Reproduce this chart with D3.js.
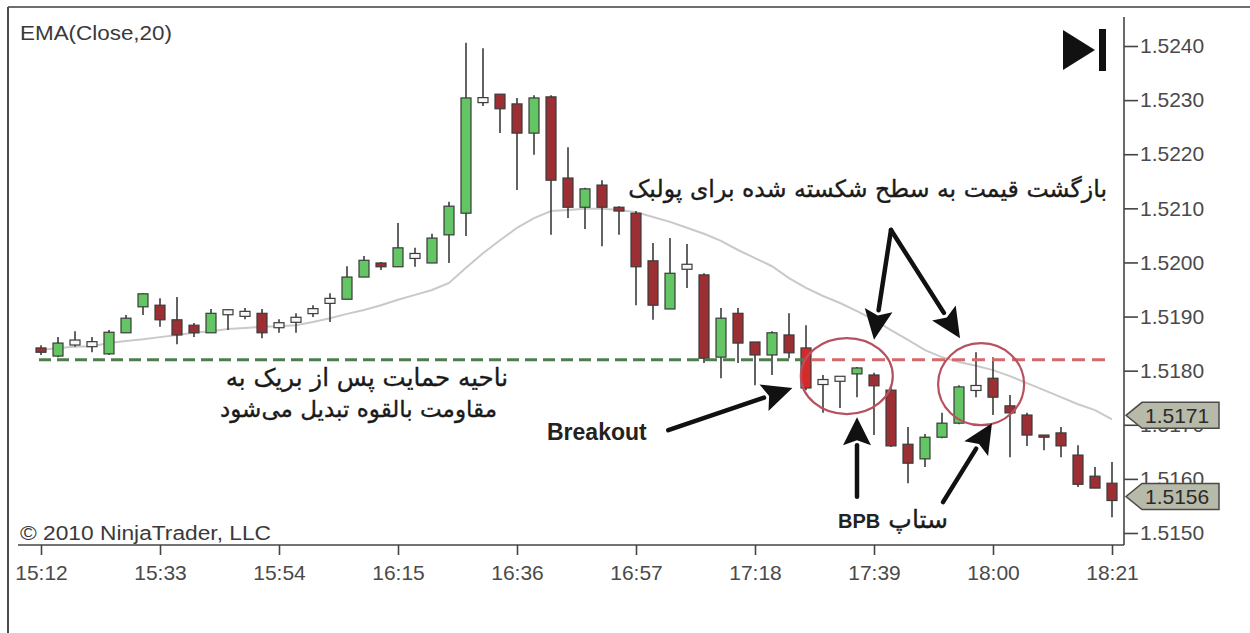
<!DOCTYPE html>
<html>
<head>
<meta charset="utf-8">
<script src="https://cdn.jsdelivr.net/npm/d3@7"></script>
<style>
  html, body { margin: 0; padding: 0; background: #fff; }
  svg { display: block; }
</style>
</head>
<body>
<svg id="chart" width="1250" height="633"></svg>
<script>
// ---- data: 3-minute bars, 15:12 to 18:21 ----
const timeTicks = ["15:12", "15:33", "15:54", "16:15", "16:36", "16:57", "17:18", "17:39", "18:00", "18:21"];
const barMinutes = 3;

const opens = [
  1.51842, 1.51827, 1.51852, 1.51849, 1.51831, 1.51870, 1.51918, 1.51921, 1.51894, 1.51884,
  1.51870, 1.51908, 1.51905, 1.51906, 1.51884, 1.51894, 1.51910, 1.51929, 1.51932, 1.51973,
  1.51999, 1.51992, 1.52012, 1.51999, 1.52051, 1.52091, 1.52300, 1.52311, 1.52293, 1.52239,
  1.52306, 1.52156, 1.52102, 1.52143, 1.52102, 1.52091, 1.52003, 1.51914, 1.51992, 1.51977,
  1.51825, 1.51906, 1.51853, 1.51829, 1.51866, 1.51842, 1.51779, 1.51785, 1.51794, 1.51792,
  1.51764, 1.51664, 1.51637, 1.51677, 1.51703, 1.51768, 1.51786, 1.51735, 1.51718, 1.51681,
  1.51685, 1.51644, 1.51605, 1.51592
];
const highs = [
  1.51847, 1.51862, 1.51873, 1.51862, 1.51875, 1.51903, 1.51943, 1.51934, 1.51936, 1.51888,
  1.51914, 1.51914, 1.51916, 1.51914, 1.51895, 1.51906, 1.51921, 1.51943, 1.51993, 1.52012,
  1.52001, 1.52073, 1.52027, 1.52053, 1.52112, 1.52406, 1.52396, 1.52311, 1.52304, 1.52309,
  1.52309, 1.52213, 1.52138, 1.52152, 1.52104, 1.52095, 1.52036, 1.52045, 1.52034, 1.51980,
  1.51916, 1.51916, 1.51853, 1.51873, 1.51906, 1.51884, 1.51792, 1.51785, 1.51807, 1.51796,
  1.51768, 1.51696, 1.51683, 1.51722, 1.51773, 1.51834, 1.51825, 1.51755, 1.51722, 1.51681,
  1.51696, 1.51662, 1.51622, 1.51631
];
const lows = [
  1.51829, 1.51825, 1.51844, 1.51834, 1.51829, 1.51870, 1.51903, 1.51881, 1.51849, 1.51862,
  1.51870, 1.51875, 1.51895, 1.51860, 1.51870, 1.51870, 1.51899, 1.51890, 1.51932, 1.51973,
  1.51986, 1.51992, 1.51992, 1.51999, 1.51999, 1.52049, 1.52289, 1.52239, 1.52134, 1.52199,
  1.52051, 1.52082, 1.52062, 1.52030, 1.52051, 1.51921, 1.51894, 1.51914, 1.51953, 1.51814,
  1.51786, 1.51814, 1.51773, 1.51792, 1.51823, 1.51764, 1.51722, 1.51731, 1.51751, 1.51681,
  1.51659, 1.51592, 1.51622, 1.51675, 1.51701, 1.51751, 1.51718, 1.51640, 1.51661, 1.51653,
  1.51640, 1.51585, 1.51583, 1.51529
];
const closes = [
  1.51834, 1.51851, 1.51852, 1.51849, 1.51871, 1.51897, 1.51942, 1.51894, 1.51866, 1.51870,
  1.51906, 1.51908, 1.51905, 1.51870, 1.51884, 1.51894, 1.51910, 1.51929, 1.51973, 1.52004,
  1.51992, 1.52027, 1.52012, 1.52045, 1.52104, 1.52304, 1.52300, 1.52284, 1.52239, 1.52304,
  1.52152, 1.52102, 1.52136, 1.52102, 1.52095, 1.51992, 1.51921, 1.51980, 1.51992, 1.51823,
  1.51897, 1.51851, 1.51829, 1.51870, 1.51833, 1.51768, 1.51779, 1.51785, 1.51805, 1.51772,
  1.51661, 1.51629, 1.51677, 1.51703, 1.51770, 1.51768, 1.51751, 1.51722, 1.51681, 1.51677,
  1.51661, 1.51590, 1.51583, 1.51560
];
// EMA(Close,20) as plotted
const ema20 = [
  1.51838, 1.51842, 1.51844, 1.51845, 1.51851, 1.51855, 1.51858, 1.51862, 1.51866, 1.51870,
  1.51873, 1.51877, 1.51879, 1.51881, 1.51882, 1.51884, 1.51890, 1.51897, 1.51905, 1.51912,
  1.51921, 1.51931, 1.51940, 1.51949, 1.51962, 1.51990, 1.52017, 1.52041, 1.52064, 1.52082,
  1.52095, 1.52097, 1.52099, 1.52099, 1.52097, 1.52093, 1.52084, 1.52075, 1.52064, 1.52053,
  1.52040, 1.52023, 1.52008, 1.51993, 1.51971, 1.51953, 1.51938, 1.51925, 1.51910, 1.51894,
  1.51875, 1.51857, 1.51838, 1.51825, 1.51816, 1.51809, 1.51801, 1.51790, 1.51777, 1.51764,
  1.51751, 1.51738, 1.51727, 1.51710
];
const priceTicks = [1.5150, 1.5160, 1.5170, 1.5180, 1.5190, 1.5200, 1.5210, 1.5220, 1.5230, 1.5240];
const priceDomain = [1.5150, 1.5240];
const supportLevel = 1.5182;   // old support, becomes resistance after the break
const breakoutBar = 45;

// ---- layout ----
const svg = d3.select("#chart");
const plot = { left: 18, right: 1124, top: 17, bottom: 545 };

const toMin = s => { const [h, m] = s.split(":").map(Number); return h * 60 + m; };
const x = d3.scaleLinear()
  .domain([toMin(timeTicks[0]), toMin(timeTicks[timeTicks.length - 1])])
  .range([41, 1112]);
const barX = i => x(toMin(timeTicks[0]) + i * barMinutes);
const y = d3.scaleLinear().domain(priceDomain).range([533, 46]);

const bars = opens.map((o, i) => ({ i, o, h: highs[i], l: lows[i], c: closes[i] }));

const axisFont = "'Liberation Sans', Arial, sans-serif";
const faFont = "'DejaVu Sans', sans-serif";

// outer frame
svg.append("line").attr("x1", 8).attr("x2", 1250).attr("y1", 7).attr("y2", 7)
  .attr("stroke", "#6f6f6f").attr("stroke-width", 2);
svg.append("line").attr("x1", 8).attr("x2", 8).attr("y1", 7).attr("y2", 633)
  .attr("stroke", "#4a4a4a").attr("stroke-width", 2);

// EMA line
svg.append("path")
  .datum(ema20)
  .attr("fill", "none")
  .attr("stroke", "#c9c9c9")
  .attr("stroke-width", 2)
  .attr("d", d3.line().x((d, i) => barX(i)).y(d => y(d)));

// candles
const bodyW = 10;
const g = svg.append("g");
g.selectAll("line.wick").data(bars).join("line")
  .attr("class", "wick")
  .attr("x1", d => barX(d.i)).attr("x2", d => barX(d.i))
  .attr("y1", d => y(d.h)).attr("y2", d => y(d.l))
  .attr("stroke", "#3b3b3b").attr("stroke-width", 1.6);

g.selectAll("rect.body").data(bars).join("rect")
  .attr("class", "body")
  .attr("x", d => barX(d.i) - bodyW / 2)
  .attr("width", bodyW)
  .attr("y", d => d.c === d.o ? y(d.c) - 2.5 : y(Math.max(d.o, d.c)))
  .attr("height", d => d.c === d.o ? 5 : Math.max(2, Math.abs(y(d.o) - y(d.c))))
  .attr("fill", d => d.c > d.o ? "#63c563" : d.c < d.o ? (d.i === breakoutBar ? "#d42a2a" : "#9c2f33") : "#f7f7f7")
  .attr("stroke", "#3b3b3b").attr("stroke-width", 1.2);

// support / resistance level
const breakX = barX(breakoutBar) - 2;
svg.append("line")
  .attr("x1", barX(0) - 2).attr("x2", breakX)
  .attr("y1", y(supportLevel)).attr("y2", y(supportLevel))
  .attr("stroke", "#4f7d4f").attr("stroke-width", 3).attr("stroke-dasharray", "12,6");
svg.append("line")
  .attr("x1", breakX + 8).attr("x2", 1107)
  .attr("y1", y(supportLevel)).attr("y2", y(supportLevel))
  .attr("stroke", "#d46a6a").attr("stroke-width", 3).attr("stroke-dasharray", "13,7");

// x axis
svg.append("line").attr("x1", plot.left).attr("x2", plot.right)
  .attr("y1", plot.bottom).attr("y2", plot.bottom)
  .attr("stroke", "#444").attr("stroke-width", 1.6);
const xAxis = svg.append("g")
  .attr("transform", `translate(0,${plot.bottom})`)
  .call(d3.axisBottom(x)
    .tickValues(timeTicks.map(toMin))
    .tickFormat((d, k) => timeTicks[k])
    .tickSize(10).tickSizeOuter(0).tickPadding(10));
xAxis.select(".domain").remove();
xAxis.selectAll(".tick line").attr("stroke", "#444").attr("stroke-width", 1.6);
xAxis.selectAll(".tick text").attr("fill", "#4a4a4a")
  .style("font-family", axisFont).style("font-size", "21px");

// y axis
svg.append("line").attr("x1", plot.right).attr("x2", plot.right)
  .attr("y1", plot.top).attr("y2", plot.bottom)
  .attr("stroke", "#444").attr("stroke-width", 1.6);
const yAxis = svg.append("g")
  .attr("transform", `translate(${plot.right},0)`)
  .call(d3.axisRight(y)
    .tickValues(priceTicks)
    .tickFormat(d3.format(".4f"))
    .tickSize(14).tickSizeOuter(0).tickPadding(2));
yAxis.select(".domain").remove();
yAxis.selectAll(".tick line").attr("stroke", "#444").attr("stroke-width", 1.6);
yAxis.selectAll(".tick text").attr("fill", "#4a4a4a")
  .style("font-family", axisFont).style("font-size", "21px");

// value tags on the price axis: last EMA and last close
const tags = [ema20[ema20.length - 1], closes[closes.length - 1]];
tags.forEach(v => {
  const cy = y(v) - 4, x0 = plot.right + 2, h = 13;
  svg.append("path")
    .attr("d", `M${x0},${cy} L${x0 + 16},${cy - h} L${x0 + 93},${cy - h} L${x0 + 93},${cy + h} L${x0 + 16},${cy + h} Z`)
    .attr("fill", "#b7baa9").attr("stroke", "#4a4a4a").attr("stroke-width", 1.5);
  svg.append("text")
    .attr("x", x0 + 19).attr("y", cy).attr("dy", "0.35em")
    .attr("fill", "#2a2a2a")
    .style("font-family", axisFont).style("font-size", "21px")
    .text(d3.format(".4f")(v));
});

// chart captions
svg.append("text").attr("x", 20).attr("y", 40)
  .attr("fill", "#3a3a3a").style("font-family", axisFont).style("font-size", "20px")
  .attr("textLength", 152).attr("lengthAdjust", "spacingAndGlyphs")
  .text("EMA(Close,20)");
svg.append("text").attr("x", 20).attr("y", 540)
  .attr("fill", "#3a3a3a").style("font-family", axisFont).style("font-size", "20px")
  .attr("textLength", 251).attr("lengthAdjust", "spacingAndGlyphs")
  .text("© 2010 NinjaTrader, LLC");

// "go to last bar" icon
svg.append("path").attr("d", "M1063,30 L1095,50 L1063,70 Z").attr("fill", "#111");
svg.append("rect").attr("x", 1099).attr("y", 29).attr("width", 7).attr("height", 42).attr("fill", "#111");

// ---- annotations (positioned in bar / price space) ----
const P = (bar, price) => [barX(bar), y(price)];

function arrow(from, to, headLen = 30, headHalf = 14, width = 4.5) {
  const [x1, y1] = from, [x2, y2] = to;
  const ang = Math.atan2(y2 - y1, x2 - x1);
  const bx = x2 - headLen * Math.cos(ang), by = y2 - headLen * Math.sin(ang);
  svg.append("line").attr("x1", x1).attr("y1", y1).attr("x2", bx).attr("y2", by)
    .attr("stroke", "#111").attr("stroke-width", width).attr("stroke-linecap", "round");
  const nx = -Math.sin(ang), ny = Math.cos(ang);
  svg.append("path")
    .attr("d", `M${x2},${y2} L${bx + nx * headHalf},${by + ny * headHalf} L${bx + headLen * 0.18 * Math.cos(ang)},${by + headLen * 0.18 * Math.sin(ang)} L${bx - nx * headHalf},${by - ny * headHalf} Z`)
    .attr("fill", "#111");
}

// circles around the two retests
const circles = [
  { bar: 47.4, price: 1.51790, rx: 46, ry: 38 },
  { bar: 55.3, price: 1.51775, rx: 43, ry: 41 }
];
circles.forEach(c => {
  const [cx, cy] = P(c.bar, c.price);
  svg.append("ellipse").attr("cx", cx).attr("cy", cy).attr("rx", c.rx).attr("ry", c.ry)
    .attr("fill", "none").attr("stroke", "#b7505f").attr("stroke-width", 2.2);
});

// arrows
const apex = P(50, 1.52060);
arrow(apex, P(49, 1.51857));
arrow(apex, P(54.06, 1.51860));
arrow(P(36.9, 1.51690), P(44.2, 1.51768));
arrow(P(48, 1.51567), P(48, 1.51714), 28, 14, 4.5);
arrow(P(53.06, 1.51557), P(55.94, 1.51703));

// Persian notes (right-to-left, anchored at their right edge)
function faText(xr, yb, size, str) {
  svg.append("text").attr("x", xr).attr("y", yb)
    .attr("direction", "rtl").attr("text-anchor", "start")
    .attr("fill", "#1a1a1a").attr("stroke", "#1a1a1a").attr("stroke-width", 0.35)
    .style("font-family", faFont).style("font-size", size + "px")
    .text(str);
}
faText(1107, 197, 23.6, "بازگشت قیمت به سطح شکسته شده برای پولبک");
faText(508, 386, 24.5, "ناحیه حمایت پس از بریک به");
faText(497, 417, 23, "مقاومت بالقوه تبدیل می‌شود");
faText(948, 528, 25, "ستاپ");

svg.append("text").attr("x", 547).attr("y", 440)
  .attr("fill", "#222").style("font-family", axisFont).style("font-size", "23px").style("font-weight", "bold")
  .text("Breakout");
svg.append("text").attr("x", 838).attr("y", 528)
  .attr("fill", "#222").style("font-family", axisFont).style("font-size", "20px").style("font-weight", "bold")
  .text("BPB");
</script>
</body>
</html>
